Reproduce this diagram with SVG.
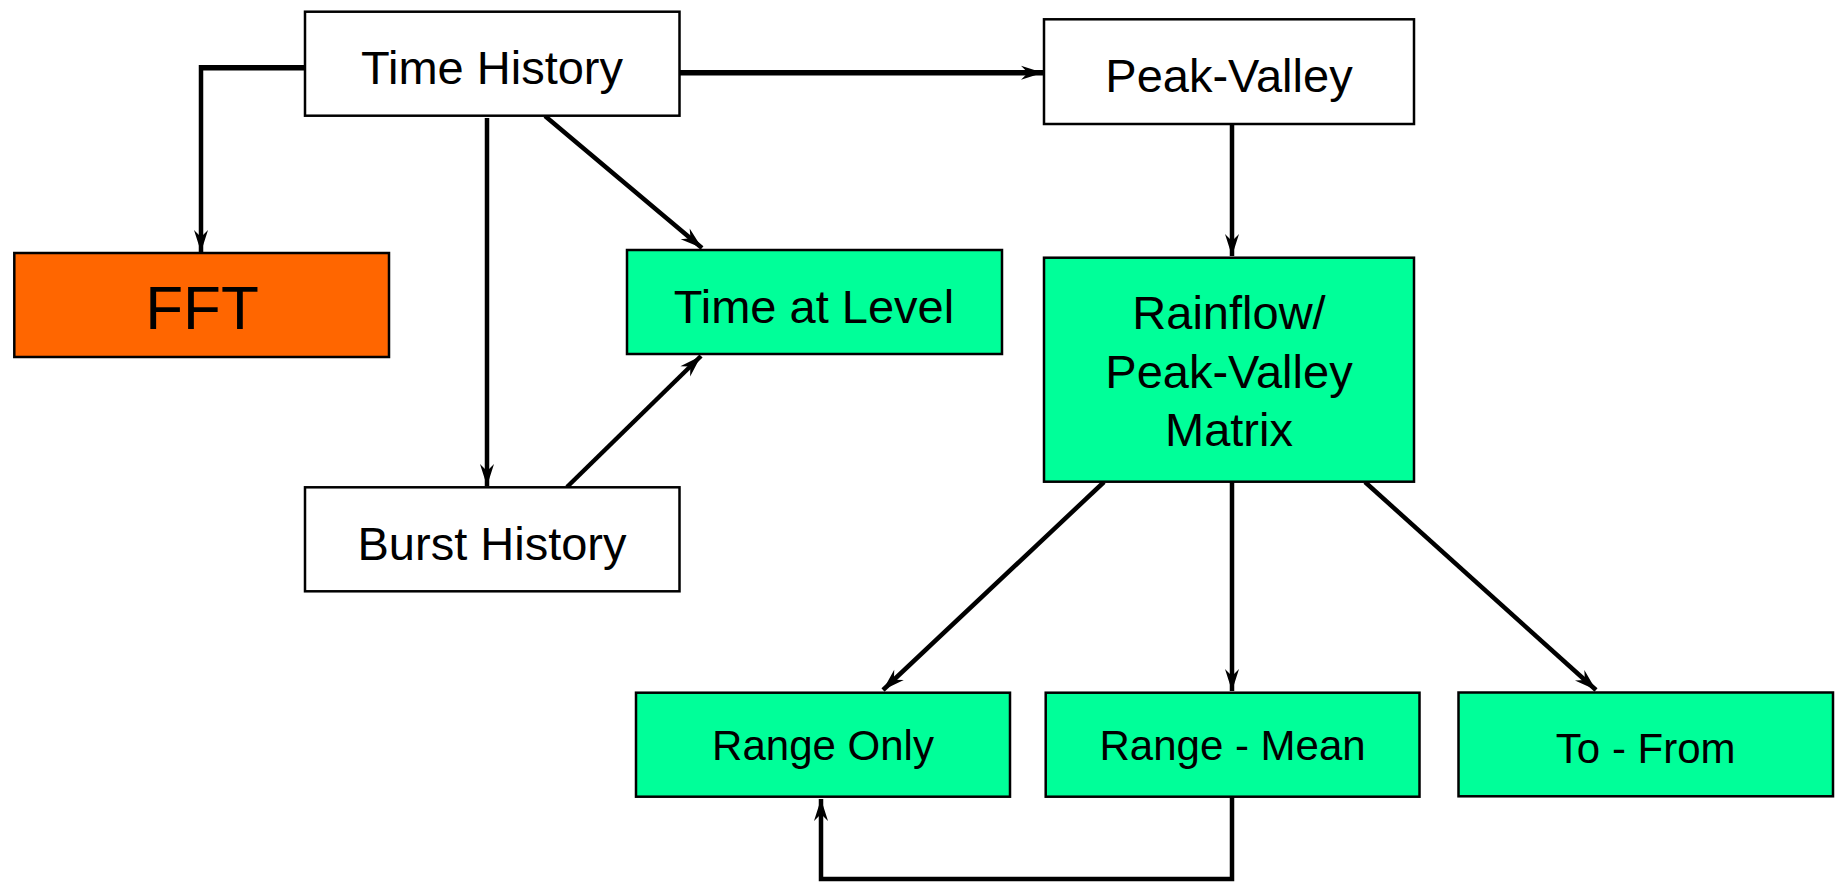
<svg xmlns="http://www.w3.org/2000/svg" width="1839" height="882" viewBox="0 0 1839 882">
  <style>
    .box { stroke: #000; stroke-width: 2.5; }
    .plain { fill: #fff; }
    .green { fill: #00ff99; }
    .orange { fill: #ff6600; }
    .label { font-family: "Liberation Sans", Arial, sans-serif; font-size: 47px; fill: #000; text-anchor: middle; }
    .small { font-size: 42px; }
    .big { font-size: 62px; }
    .conn { fill: none; stroke: #000; stroke-width: 4.5; }
    .heavy { stroke-width: 5.5; }
  </style>
  <defs>
    <marker id="arrow" markerUnits="userSpaceOnUse" markerWidth="30" markerHeight="20" viewBox="-24 -10 26 20" refX="0" refY="0" orient="auto">
      <path d="M0,0 L-22,-7 L-15,0 L-22,7 Z" fill="#000"/>
    </marker>
  </defs>

  <rect width="1839" height="882" fill="#fff"/>

  <g id="connectors">
    <path class="conn heavy" d="M305,67.7 H201"/>
    <path class="conn" d="M201,65 V252" marker-end="url(#arrow)"/>
    <path class="conn heavy" d="M679,72.7 H1043" marker-end="url(#arrow)"/>
    <path class="conn" d="M487,118 V486" marker-end="url(#arrow)"/>
    <path class="conn" d="M545,116 L702,248" marker-end="url(#arrow)"/>
    <path class="conn" d="M567,487 L701,356" marker-end="url(#arrow)"/>
    <path class="conn" d="M1232,124 V256" marker-end="url(#arrow)"/>
    <path class="conn" d="M1104,482 L883,690" marker-end="url(#arrow)"/>
    <path class="conn" d="M1232,482 V691" marker-end="url(#arrow)"/>
    <path class="conn" d="M1365,482 L1596,690" marker-end="url(#arrow)"/>
    <path class="conn" d="M1232,797 V879 H821 V799" marker-end="url(#arrow)"/>
  </g>

  <g id="time-history">
    <rect class="box plain" x="305" y="11.7" width="374.5" height="104"/>
    <text class="label" x="492" y="84">Time History</text>
  </g>
  <g id="fft">
    <rect class="box orange" x="14.3" y="253" width="374.7" height="104"/>
    <text class="label big" x="202" y="329">FFT</text>
  </g>
  <g id="time-at-level">
    <rect class="box green" x="627" y="250" width="375" height="104"/>
    <text class="label" x="814" y="322.7">Time at Level</text>
  </g>
  <g id="burst-history">
    <rect class="box plain" x="305" y="487.3" width="374.5" height="104"/>
    <text class="label" x="492" y="560">Burst History</text>
  </g>
  <g id="peak-valley">
    <rect class="box plain" x="1044" y="19.3" width="370" height="104.7"/>
    <text class="label" x="1229" y="91.7">Peak-Valley</text>
  </g>
  <g id="rainflow-matrix">
    <rect class="box green" x="1044" y="257.7" width="370" height="224"/>
    <text class="label" x="1229" y="329.3">Rainflow/</text>
    <text class="label" x="1229" y="387.7">Peak-Valley</text>
    <text class="label" x="1229" y="445.7">Matrix</text>
  </g>
  <g id="range-only">
    <rect class="box green" x="636" y="692.7" width="374" height="104"/>
    <text class="label small" x="823" y="760">Range Only</text>
  </g>
  <g id="range-mean">
    <rect class="box green" x="1045.7" y="692.7" width="373.8" height="104"/>
    <text class="label small" x="1232.6" y="760">Range - Mean</text>
  </g>
  <g id="to-from">
    <rect class="box green" x="1458.5" y="692.5" width="374.5" height="103.8"/>
    <text class="label small" x="1645.7" y="763">To - From</text>
  </g>
</svg>
